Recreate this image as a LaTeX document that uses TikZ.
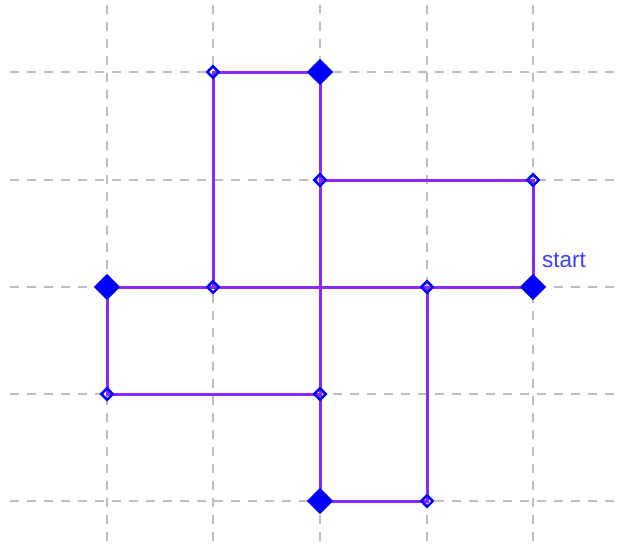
\documentclass[tikz,border=0pt]{standalone}
\usepackage{fontspec}
\setmainfont{Liberation Sans}
\usetikzlibrary{shapes.geometric}
\definecolor{gridgray}{RGB}{190,190,190}
\definecolor{pathpurple}{RGB}{140,40,255}
\definecolor{markblue}{RGB}{0,0,255}
\definecolor{textblue}{RGB}{60,60,255}
\begin{document}
\begin{tikzpicture}[x=1pt,y=-1pt,
  gridline/.style={gridgray,line width=1.5pt,dash pattern=on 9pt off 8pt},
  pathline/.style={pathpurple,line width=3pt,line join=miter},
  bigd/.style={diamond,fill=markblue,inner sep=0pt,minimum width=26pt,minimum height=26pt},
  smalld/.style={diamond,draw=markblue,line width=2.2pt,inner sep=0pt,minimum width=12.5pt,minimum height=12.5pt},
  lbl/.style={textblue,font=\fontsize{22.5}{26}\selectfont,anchor=south west,inner sep=0pt}]
\useasboundingbox (0,0) rectangle (621,550);
% grid
\foreach \yy in {72,180,287,394,501} \draw[gridline] (10,\yy) -- (617,\yy);
\foreach \xx in {107,213,320,427,533} \draw[gridline] (\xx,5) -- (\xx,545);
% markers (nodes)
\node[bigd] (s) at (533,287) {};
\node[smalld] (a) at (533,180) {};
\node[smalld] (b) at (320,180) {};
\node[bigd] (c) at (320,72) {};
\node[smalld] (d) at (213,72) {};
\node[smalld] (e) at (213,287) {};
\node[bigd] (f) at (107,287) {};
\node[smalld] (g) at (107,394) {};
\node[smalld] (h) at (320,394) {};
\node[bigd] (i) at (320,501) {};
\node[smalld] (j) at (427,501) {};
\node[smalld] (k) at (427,287) {};
% path
\draw[pathline] (s.center) -- (a.center) -- (b.center) -- (c.center) -- (d.center) -- (e.center) -- (f.center) -- (g.center) -- (h.center) -- (i.center) -- (j.center) -- (k.center) -- (s.center);
\draw[pathline] (e.center) -- (k.center);
\draw[pathline] (b.center) -- (h.center);
% redraw markers on top
\foreach \n/\st in {s/bigd,c/bigd,f/bigd,i/bigd} \node[\st] at (\n) {};
\foreach \n in {a,b,d,e,g,h,j,k} \node[smalld] at (\n) {};
\node[lbl] (start) at (542,268) {start};
\end{tikzpicture}
\end{document}
